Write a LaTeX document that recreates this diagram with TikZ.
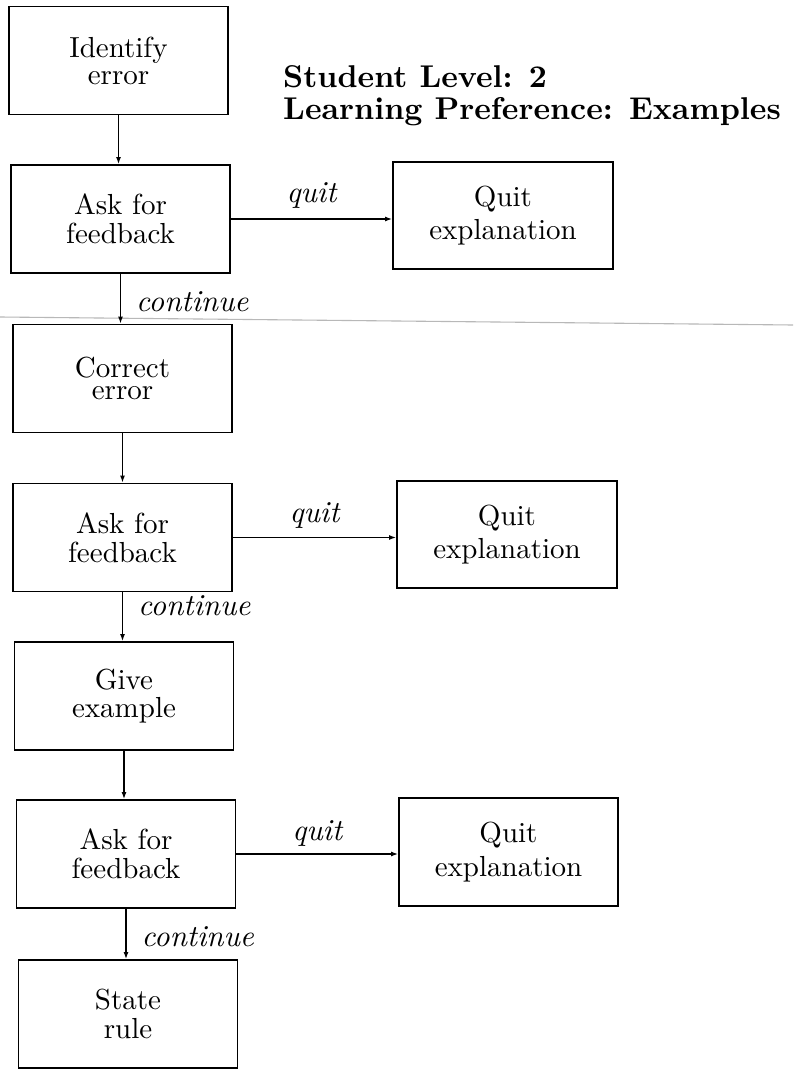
\documentclass[tikz,border=0pt]{standalone}
\usepackage{fontspec}
% 10pt design size of Latin Modern, scaled up, for the heavier classic look
\setmainfont{lmroman10-regular}[Extension=.otf, BoldFont=lmroman10-bold, ItalicFont=lmroman10-italic, BoldItalicFont=lmroman10-bolditalic]
\usetikzlibrary{arrows.meta}
\begin{document}
\begin{tikzpicture}[x=1pt,y=-1pt,
  stepbox/.style={draw=black, line width=1.8pt, rectangle, inner sep=0pt,
    minimum width=219pt, minimum height=108pt, align=center,
    font={\fontsize{29}{0}\selectfont\lineskip=8pt\lineskiplimit=0pt}},
  flow/.style={line width=1.4pt, -{Latex[length=7pt,width=5pt]}},
  edgelbl/.style={font={\itshape\fontsize{30.5}{32}\selectfont}, inner sep=0pt},
  heading/.style={font={\bfseries\fontsize{31.5}{32}\selectfont}, inner sep=0pt, anchor=base west}]
\useasboundingbox (0,0) rectangle (793,1070);
\fill[white] (0,0) rectangle (793,1070);

% faint seam across the sheet
\draw[black!28, line width=1.1pt] (0,317) -- (793,325);

% main column of explanation steps
\node[stepbox] (b1) at (118.5,60.5) {Identify\\error};
\node[stepbox] (b2) at (120.5,219) {Ask for\\feedback};
\node[stepbox] (b3) at (122.5,378.5) {Correct\\error};
\node[stepbox] (b4) at (122.5,537.5) {Ask for\\feedback};
\node[stepbox] (b5) at (124,696) {Give\\example};
\node[stepbox] (b6) at (126,854) {Ask for\\feedback};
\node[stepbox] (b7) at (128,1014) {State\\rule};

% exits
\node[stepbox, minimum width=220pt, minimum height=107pt] (q1) at (503,215.5) {Quit\\explanation};
\node[stepbox, minimum width=220pt, minimum height=107pt] (q2) at (507,534.5) {Quit\\explanation};
\node[stepbox, minimum width=219pt, minimum height=108pt] (q3) at (508.5,852) {Quit\\explanation};

% heading
\node[heading] (h1) at (283,88) {Student Level: 2};
\node[heading] (h2) at (283,120) {Learning Preference: Examples};

% vertical flow
\draw[flow] (b1.south) -- (b1.south |- b2.north);
\draw[flow] (b2.south) -- node[edgelbl, pos=0.76, anchor=base west, xshift=15pt] {continue} (b2.south |- b3.north);
\draw[flow] (b3.south) -- (b3.south |- b4.north);
\draw[flow] (b4.south) -- node[edgelbl, pos=0.48, anchor=base west, xshift=15pt] {continue} (b4.south |- b5.north);
\draw[flow] (b5.south) -- (b5.south |- b6.north);
\draw[flow] (b6.south) -- node[edgelbl, pos=0.75, anchor=base west, xshift=15pt] {continue} (b6.south |- b7.north);

% quit branches
\draw[flow] (b2.east) -- node[edgelbl, midway, anchor=base, yshift=17pt] {quit} (b2.east -| q1.west);
\draw[flow] (b4.east) -- node[edgelbl, midway, anchor=base, yshift=15pt] {quit} (b4.east -| q2.west);
\draw[flow] (b6.east) -- node[edgelbl, midway, anchor=base, yshift=14pt] {quit} (b6.east -| q3.west);
\end{tikzpicture}
\end{document}
